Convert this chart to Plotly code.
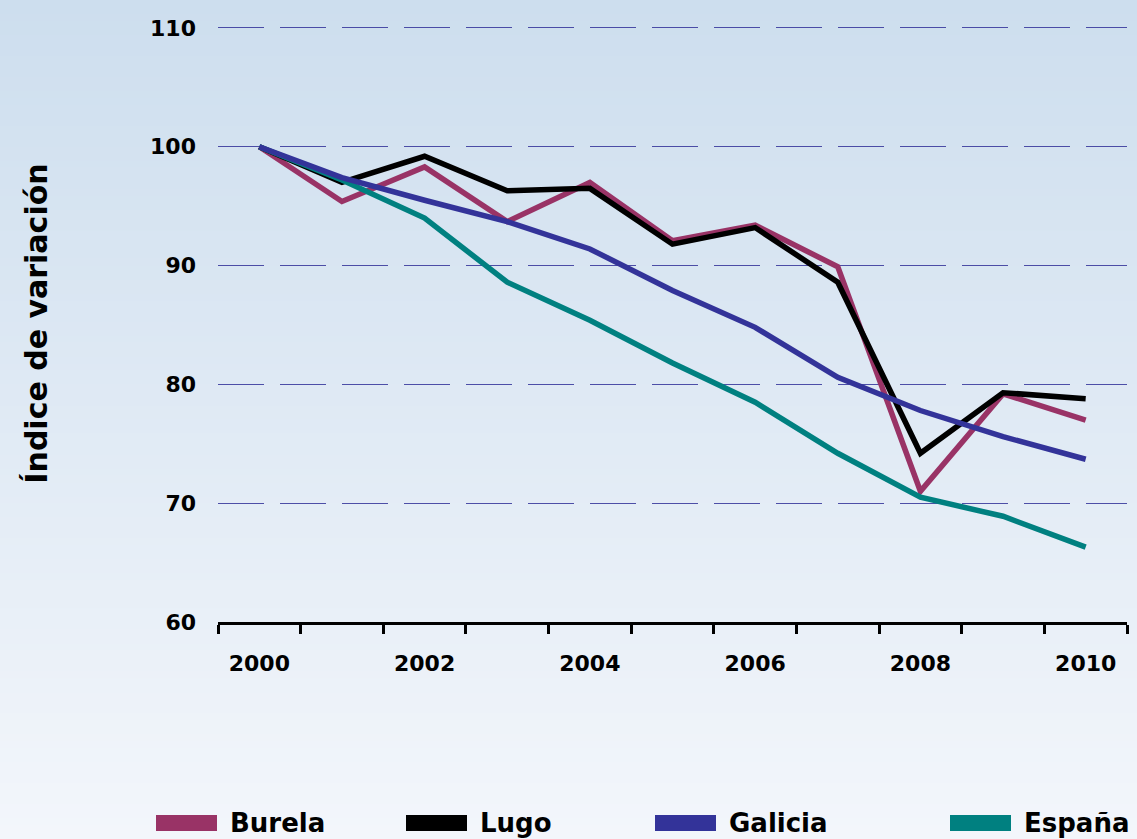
import plotly.graph_objects as go

years = [2000, 2001, 2002, 2003, 2004, 2005, 2006, 2007, 2008, 2009, 2010]
burela = [100, 95.4, 98.3, 93.7, 97.0, 92.1, 93.4, 89.9, 71.0, 79.2, 77.0]
lugo = [100, 97.0, 99.2, 96.3, 96.5, 91.8, 93.2, 88.6, 74.2, 79.3, 78.8]
galicia = [100, 97.4, 95.5, 93.7, 91.4, 87.9, 84.8, 80.6, 77.8, 75.6, 73.7]
espana = [100, 97.2, 94.0, 88.6, 85.4, 81.8, 78.5, 74.2, 70.5, 68.9, 66.3]
x_tick_labels = ["2000", "2002", "2004", "2006", "2008", "2010"]
series_names = ["Burela", "Lugo", "Galicia", "España"]
series_colors = ["#993366", "#000000", "#333399", "#008080"]

FONT = "DejaVu Sans"
W, H = 1137, 839
L, R, T, B = 218, 10, 25, 217
PW, PH = W - L - R, H - T - B

def px_to_paper_x(p):
    return (p - L) / PW

def px_to_paper_y(p):
    return (H - B - p) / PH

fig = go.Figure()
series = {"Burela": burela, "Lugo": lugo, "Galicia": galicia, "España": espana}
draw_order = ["Burela", "Lugo", "España", "Galicia"]
for name in draw_order:
    c = series_colors[series_names.index(name)]
    fig.add_trace(go.Scatter(x=years, y=series[name], mode="lines", name=name,
                             line=dict(color=c, width=5.5), showlegend=False))

shapes = []
# background gradient
top = (205, 222, 238)
bot = (243, 246, 251)
n = 120
for i in range(n):
    t = i / (n - 1)
    col = tuple(round(top[k] + (bot[k] - top[k]) * t) for k in range(3))
    y0p = i * H / n
    y1p = (i + 1) * H / n + 1
    shapes.append(dict(type="rect", xref="paper", yref="paper",
                       x0=px_to_paper_x(-2), x1=px_to_paper_x(W + 2),
                       y0=px_to_paper_y(y1p), y1=px_to_paper_y(y0p),
                       fillcolor="rgb(%d,%d,%d)" % col, line=dict(width=0), layer="below"))

annotations = []
legend_rect_x = [156, 406, 655, 950]
for name, c, rx in zip(series_names, series_colors, legend_rect_x):
    shapes.append(dict(type="rect", xref="paper", yref="paper",
                       x0=px_to_paper_x(rx), x1=px_to_paper_x(rx + 61),
                       y0=px_to_paper_y(831), y1=px_to_paper_y(815),
                       fillcolor=c, line=dict(width=0), layer="above"))
    annotations.append(dict(text=name, xref="paper", yref="paper",
                            x=px_to_paper_x(rx + 72), y=px_to_paper_y(823),
                            xanchor="left", yanchor="middle", showarrow=False,
                            font=dict(family=FONT, size=26, color="black", weight="bold")))

fig.update_layout(
    width=W, height=H,
    margin=dict(l=L, r=R, t=T, b=B, pad=0),
    paper_bgcolor="#f3f6fb",
    plot_bgcolor="rgba(0,0,0,0)",
    shapes=shapes,
    annotations=annotations,
    showlegend=False,
    font=dict(family=FONT, size=22, color="black", weight="bold"),
    xaxis=dict(
        range=[1999.5, 2010.5],
        tickmode="array",
        tickvals=years[::2],
        ticktext=x_tick_labels,
        ticks="",
        showgrid=False,
        zeroline=False,
        showline=True, linecolor="black", linewidth=3,
        ticklabelstandoff=20,
        tickfont=dict(family=FONT, size=22, color="black", weight="bold"),
        minor=dict(tickmode="array", tickvals=[y - 0.5 for y in years] + [2010.5],
                   ticks="outside", ticklen=9, tickwidth=3, tickcolor="black",
                   showgrid=False),
    ),
    yaxis=dict(
        range=[60, 110.25],
        tickmode="array", tickvals=[60, 70, 80, 90, 100, 110],
        showline=False, zeroline=False,
        showgrid=True, gridcolor="rgba(51,51,153,0.85)", gridwidth=1,
        griddash="46px,16px",
        ticks="",
        ticklabelstandoff=21,
        tickfont=dict(family=FONT, size=22, color="black", weight="bold"),
        title=dict(text="Índice de variación", standoff=93,
                   font=dict(family=FONT, size=30, color="black", weight="bold")),
    ),
)

fig.write_html("out.html", config={"displayModeBar": False},
               post_script="document.body.style.margin='0';")
